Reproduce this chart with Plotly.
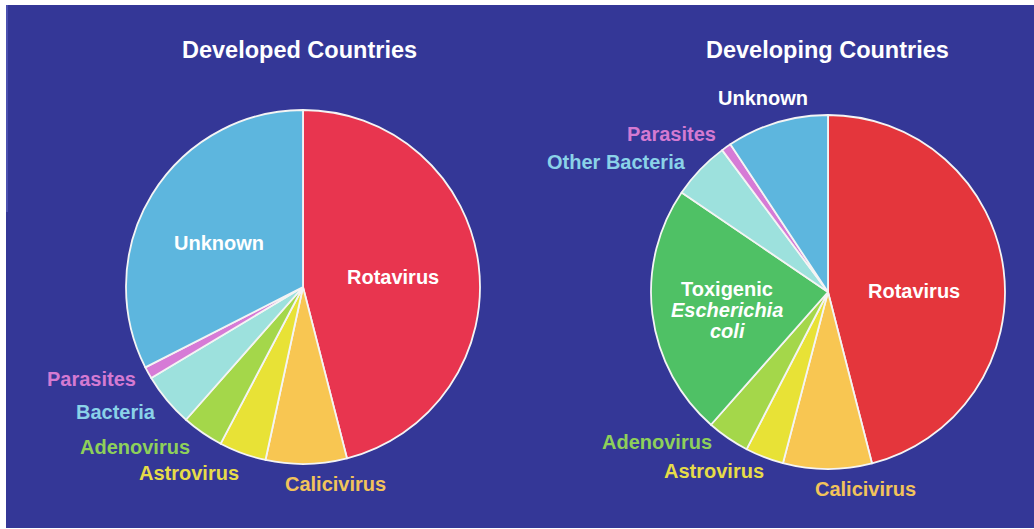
import plotly.graph_objects as go

# Causes of severe childhood diarrhoea, share of cases (%)
developed_labels = ["Rotavirus", "Calicivirus", "Astrovirus", "Adenovirus",
                    "Bacteria", "Parasites", "Unknown"]
developed_values = [46.0, 7.4, 4.3, 3.8, 4.9, 1.1, 32.5]
developed_colors = ["#e8354f", "#f8c652", "#e8e236", "#a4d74a",
                    "#9de1dd", "#d67bd6", "#5db6de"]

developing_labels = ["Rotavirus", "Calicivirus", "Astrovirus", "Adenovirus",
                     "Toxigenic Escherichia coli", "Other Bacteria",
                     "Parasites", "Unknown"]
developing_values = [46.0, 8.1, 3.5, 3.9, 23.0, 5.3, 0.9, 9.3]
developing_colors = ["#e4363c", "#f8c652", "#e8e236", "#a4d74a",
                     "#4fc165", "#9de1dd", "#d67bd6", "#5db6de"]

W, H = 1034, 529
BG = "#343797"


def px_x(x):
    return x / W


def px_y(y):
    return 1 - y / H


fig = go.Figure()

pie_common = dict(
    sort=False, direction="clockwise", rotation=0,
    textinfo="none", hoverinfo="label+percent",
    marker_line=dict(color="#f4f4f4", width=1.8),
    showlegend=False,
)

fig.add_trace(go.Pie(
    labels=developed_labels, values=developed_values,
    marker_colors=developed_colors,
    domain=dict(x=[px_x(126), px_x(480)], y=[px_y(464), px_y(110)]),
    **pie_common,
))
fig.add_trace(go.Pie(
    labels=developing_labels, values=developing_values,
    marker_colors=developing_colors,
    domain=dict(x=[px_x(651), px_x(1005)], y=[px_y(469), px_y(115)]),
    **pie_common,
))

FONT = "Liberation Sans, Arial, Helvetica, sans-serif"


def label(text, x, y, color, size=20, italic=False):
    fig.add_annotation(
        text=text, x=px_x(x), y=px_y(y), xref="paper", yref="paper",
        xanchor="center", yanchor="middle", showarrow=False,
        font=dict(family=FONT, size=size, color=color, weight="bold",
                  style="italic" if italic else "normal"),
    )


# panel titles
label("Developed Countries", 299, 50, "#ffffff", size=23.5)
label("Developing Countries", 827, 50, "#ffffff", size=23.5)

# developed-country labels
label("Unknown", 219, 243, "#ffffff")
label("Rotavirus", 393, 277, "#ffffff")
label("Parasites", 91, 379, "#d47ad2")
label("Bacteria", 116, 412, "#8ad2e8")
label("Adenovirus", 135, 447, "#8ed05a")
label("Astrovirus", 189, 473, "#e6dc48")
label("Calicivirus", 335, 484, "#f2c35a")

# developing-country labels
label("Unknown", 763, 98, "#ffffff")
label("Parasites", 671, 134, "#d47ad2")
label("Other Bacteria", 616, 162, "#8ad2e8")
label("Rotavirus", 914, 291, "#ffffff")
label("Toxigenic", 727, 289, "#ffffff")
label("Escherichia", 727, 310, "#ffffff", italic=True)
label("coli", 727, 331, "#ffffff", italic=True)
label("Adenovirus", 657, 442, "#8ed05a")
label("Astrovirus", 714, 471, "#e6dc48")
label("Calicivirus", 865, 489, "#f2c35a")

# dark slide background inside a thin white frame
fig.add_shape(type="rect", xref="paper", yref="paper",
              x0=px_x(6), x1=1, y0=px_y(528), y1=px_y(5),
              fillcolor=BG, line_width=0, layer="below")
fig.add_shape(type="rect", xref="paper", yref="paper",
              x0=px_x(6), x1=px_x(8), y0=px_y(212), y1=px_y(5),
              fillcolor="#4b50b0", line_width=0, layer="below")

fig.update_layout(
    width=W, height=H,
    margin=dict(l=0, r=0, t=0, b=0),
    paper_bgcolor="#ffffff",
    plot_bgcolor=BG,
)

fig.write_html("out.html")
